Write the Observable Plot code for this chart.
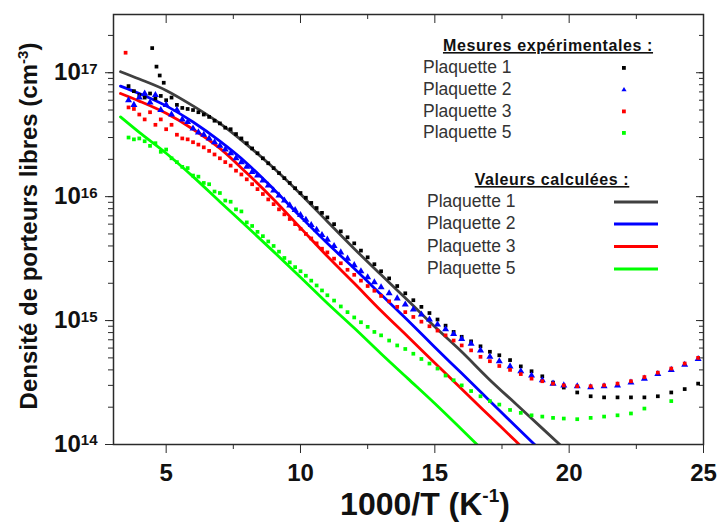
<!DOCTYPE html>
<html><head><meta charset="utf-8">
<script src="https://cdn.jsdelivr.net/npm/d3@7"></script>
<script src="https://cdn.jsdelivr.net/npm/@observablehq/plot@0.6"></script>
<style>body{margin:0;background:#fff}</style>
</head><body><div id="chart"></div>
<script>
// 1000/T grid of the measurements (K^-1)
const invT = [3.4,3.6,3.8,4.0,4.2,4.4,4.6,4.8,5.0,5.2,5.4,5.6,5.8,6.0,6.2,6.4,6.6,6.8,7.0,7.2,7.4,7.6,7.8,8.0,8.2,8.4,8.6,8.8,9.0,9.2,9.4,9.6,9.8,10.0,10.2,10.4,10.6,10.8,11.0,11.25,11.5,11.75,12.0,12.25,12.5,12.75,13.0,13.3,13.6,13.9,14.2,14.5,14.8,15.1,15.4,15.7,16.0,16.35,16.7,17.05,17.4,17.8,18.2,18.6,19.0,19.4,19.8,20.3,20.8,21.3,21.8,22.3,22.8,23.3,23.8,24.3,24.8];
// measured densities (cm^-3)
const p1 = [null,7.8e16,7.1e16,6.6e16,6.3e16,6.8e16,6.2e16,6.5e16,6.0e16,6.3e16,5.5e16,5.2e16,5.1e16,5.0e16,4.8e16,4.6e16,4.4e16,4.1e16,3.9e16,3.6e16,3.5e16,3.2e16,2.95e16,2.7e16,2.45e16,2.24e16,2.04e16,1.86e16,1.70e16,1.55e16,1.41e16,1.29e16,1.17e16,1.07e16,9.8e15,8.9e15,8.1e15,7.4e15,6.8e15,6.0e15,5.25e15,4.7e15,4.2e15,3.67e15,3.24e15,2.85e15,2.5e15,2.19e15,1.9e15,1.66e15,1.46e15,1.29e15,1.15e15,1.02e15,9.1e14,8.1e14,7.4e14,6.8e14,6.2e14,5.6e14,5.25e14,4.8e14,4.27e14,3.9e14,3.55e14,3.16e14,2.88e14,2.63e14,2.45e14,2.4e14,2.4e14,2.4e14,2.4e14,2.45e14,2.63e14,2.8e14,3.1e14];
const p2 = [null,6.0e16,5.5e16,6.3e16,6.8e16,5.75e16,6.6e16,5.0e16,5.5e16,4.6e16,5.0e16,4.2e16,4.0e16,3.55e16,3.3e16,3.16e16,2.95e16,2.75e16,2.57e16,2.4e16,2.24e16,2.04e16,1.9e16,1.74e16,1.58e16,1.48e16,1.35e16,1.23e16,1.12e16,1.02e16,9.3e15,8.5e15,7.8e15,7.1e15,6.5e15,5.9e15,5.4e15,4.9e15,4.5e15,4.0e15,3.55e15,3.16e15,2.8e15,2.5e15,2.24e15,2.04e15,1.86e15,1.66e15,1.51e15,1.35e15,1.23e15,1.12e15,1.02e15,9.3e14,8.5e14,7.8e14,7.1e14,6.5e14,5.75e14,5.1e14,4.7e14,4.27e14,3.9e14,3.6e14,3.3e14,3.1e14,3.0e14,2.95e14,2.9e14,2.95e14,3.0e14,3.16e14,3.4e14,3.7e14,4.0e14,4.4e14,4.9e14];
const p3 = [null,5.25e16,5.1e16,4.6e16,4.2e16,4.8e16,3.8e16,4.2e16,3.5e16,3.8e16,3.16e16,2.95e16,2.9e16,2.75e16,2.63e16,2.5e16,2.34e16,2.19e16,2.04e16,1.9e16,1.78e16,1.62e16,1.51e16,1.38e16,1.26e16,1.15e16,1.05e16,9.5e15,8.7e15,7.9e15,7.2e15,6.6e15,6.0e15,5.5e15,5.0e15,4.6e15,4.2e15,3.8e15,3.55e15,3.16e15,2.9e15,2.57e15,2.34e15,2.1e15,1.9e15,1.74e15,1.58e15,1.43e15,1.29e15,1.17e15,1.07e15,9.8e14,9.0e14,8.3e14,7.6e14,6.9e14,6.3e14,5.75e14,5.1e14,4.7e14,4.3e14,4.0e14,3.7e14,3.4e14,3.24e14,3.1e14,3.0e14,2.95e14,2.95e14,3.0e14,3.1e14,3.24e14,3.5e14,3.8e14,4.1e14,4.5e14,5.0e14];
const p5 = [null,3.0e16,2.9e16,2.95e16,2.8e16,2.57e16,2.7e16,2.3e16,2.4e16,2.04e16,1.9e16,1.74e16,1.7e16,1.48e16,1.45e16,1.29e16,1.26e16,1.1e16,1.07e16,9.3e15,9.1e15,7.9e15,7.6e15,6.2e15,5.8e15,5.2e15,4.8e15,4.35e15,4.0e15,3.6e15,3.2e15,2.95e15,2.7e15,2.5e15,2.3e15,2.1e15,1.92e15,1.75e15,1.6e15,1.45e15,1.3e15,1.17e15,1.06e15,9.7e14,8.9e14,8.1e14,7.6e14,6.9e14,6.3e14,5.9e14,5.4e14,4.9e14,4.5e14,4.1e14,3.6e14,3.3e14,3.0e14,2.7e14,2.45e14,2.24e14,2.1e14,1.9e14,1.8e14,1.72e14,1.68e14,1.64e14,1.62e14,1.6e14,1.64e14,1.68e14,1.72e14,1.78e14,1.95e14,null,2.24e14,null,null];
// isolated outlying measurements
const p1OutX = [4.48,4.64,4.76,4.91];
const p1OutY = [1.58e17,1.12e17,9.5e16,8.3e16];
const p3OutX = [3.49];
const p3OutY = [1.45e17];
// calculated curves
const calcX = [3.3,4,5,6,7,8,9,10,11,12,13,14,15,16,17,18,19,20];
const calc1 = [1.02e17,8.9e16,7.2e16,5.4e16,3.9e16,2.63e16,1.7e16,1.05e16,6.3e15,3.8e15,2.34e15,1.45e15,8.9e14,5.6e14,3.4e14,2.14e14,1.35e14,8.5e13];
const calc2 = [7.8e16,6.8e16,5.4e16,4.0e16,2.8e16,1.86e16,1.15e16,6.9e15,4.2e15,2.63e15,1.62e15,1.0e15,6.1e14,3.75e14,2.3e14,1.41e14,8.7e13,null];
const calc3 = [6.8e16,5.9e16,4.7e16,3.5e16,2.45e16,1.55e16,9.5e15,5.6e15,3.3e15,2.0e15,1.2e15,7.4e14,4.55e14,2.8e14,1.73e14,1.07e14,6.6e13,null];
const calc5 = [4.4e16,3.3e16,2.24e16,1.45e16,9.1e15,5.75e15,3.6e15,2.24e15,1.38e15,8.7e14,5.4e14,3.4e14,2.14e14,1.32e14,8.1e13,null,null,null];
// ticks and legend
const xMajor = [5,10,15,20,25];
const xMinor = [7.5,12.5,17.5,22.5];
const yMajor = [1e14,1e15,1e16,1e17];
const names = ["Plaquette 1","Plaquette 2","Plaquette 3","Plaquette 5"];
const dotColors = ["#000000","#0000ff","#ff0000","#00ff00"];
const lineColors = ["#404040","#0000ff","#ff0000","#00ff00"];

const FONT = "'Liberation Sans', Arial, sans-serif";
const yDomain = [1e14, 2.95e17];
const yMinor = d3.scaleLog().domain(yDomain).ticks();
const AX = "#2a2a2a";

const series = [p1, p2, p3, p5];
const calcs = [calc1, calc2, calc3, calc5];

const marks = [];
calcs.forEach((c, i) => marks.push(Plot.line(calcX, {x: calcX, y: c, stroke: lineColors[i], strokeWidth: 2.8, curve: "monotone-x", clip: true})));
series.forEach((s, i) => marks.push(Plot.dot(invT, {x: invT, y: s, symbol: i === 1 ? "triangle" : "square", r: i === 1 ? 2.6 : 2.1, fill: dotColors[i], stroke: null})));
marks.push(Plot.dot(p1OutX, {x: p1OutX, y: p1OutY, symbol: "square", r: 2.1, fill: dotColors[0]}));
marks.push(Plot.dot(p3OutX, {x: p3OutX, y: p3OutY, symbol: "square", r: 2.1, fill: dotColors[2]}));

const chart = Plot.plot({
  width: 721, height: 524,
  marginLeft: 113, marginRight: 18, marginTop: 14, marginBottom: 80,
  style: {fontFamily: FONT, background: "#fff", color: AX},
  x: {domain: [3.04, 25]},
  y: {type: "log", domain: yDomain},
  marks: [
    ...marks,
    Plot.frame({stroke: AX, strokeWidth: 1.5}),
    Plot.axisY({anchor: "left", ticks: yMajor, tickSize: 8, tickPadding: 8, tickFormat: d => String(Math.round(Math.log10(d))), fontSize: 24, fontWeight: "bold", fill: "#111", label: null}),
    Plot.axisY({anchor: "left", ticks: yMinor, tickSize: 5, tickFormat: () => "", label: null}),
    Plot.axisY({anchor: "right", ticks: yMajor, tickSize: 8, dx: -8, tickFormat: () => "", label: null}),
    Plot.axisY({anchor: "right", ticks: yMinor, tickSize: 5, dx: -5, tickFormat: () => "", label: null}),
    Plot.axisX({anchor: "bottom", ticks: xMajor, tickSize: 9, tickPadding: 10, fontSize: 24, fontWeight: "bold", fill: "#111", label: null}),
    Plot.axisX({anchor: "bottom", ticks: xMinor, tickSize: 5, tickFormat: () => "", label: null}),
    Plot.axisX({anchor: "top", ticks: xMajor, tickSize: 8, dy: 8, tickFormat: () => "", label: null}),
    Plot.axisX({anchor: "top", ticks: xMinor, tickSize: 4, dy: 4, tickFormat: () => "", label: null})
  ]
});
document.getElementById("chart").appendChild(chart);

const svg = d3.select(chart);
// y tick labels as 10^n
svg.selectAll('g[aria-label="y-axis tick label"] text').each(function() {
  const t = d3.select(this);
  const e = t.text();
  if (!e) return;
  t.text("");
  t.append("tspan").text("10");
  t.append("tspan").attr("dy", "-0.45em").attr("font-size", 15).text(e);
});

// axis titles
const yl = svg.append("text").attr("transform", "translate(37,226) rotate(-90)")
  .attr("text-anchor", "middle").attr("font-size", 24).attr("font-weight", "bold").attr("fill", "#111").attr("font-family", FONT);
yl.append("tspan").text("Densité de porteurs libres (cm");
yl.append("tspan").attr("dy", -9).attr("font-size", 15).text("-3");
yl.append("tspan").attr("dy", 9).text(")");

const xl = svg.append("text").attr("x", 425).attr("y", 515)
  .attr("text-anchor", "middle").attr("font-size", 32).attr("font-weight", "bold").attr("fill", "#111").attr("font-family", FONT);
xl.append("tspan").text("1000/T (K");
xl.append("tspan").attr("dy", -13).attr("font-size", 19).text("-1");
xl.append("tspan").attr("dy", 13).text(")");

// legend
const lg = svg.append("g").attr("font-family", FONT).attr("text-anchor", "start");
lg.append("text").attr("x", 548).attr("y", 51).attr("text-anchor", "middle").attr("font-size", 16).attr("font-weight", "bold")
  .attr("letter-spacing", 0.6).attr("text-decoration", "underline").attr("fill", "#111").text("Mesures expérimentales :");
const rows1 = [73, 95, 116.5, 138];
names.forEach((n, i) => {
  lg.append("text").attr("x", 423).attr("y", rows1[i]).attr("text-anchor", "start").attr("font-size", 17.5).attr("fill", "#333").text(n);
  if (i === 1) lg.append("path").attr("d", `M624,${rows1[i]-8}l2.6,4.2h-5.2z`).attr("fill", dotColors[i]);
  else lg.append("rect").attr("x", 622).attr("y", rows1[i]-7).attr("width", 3.8).attr("height", 3.8).attr("fill", dotColors[i]);
});
lg.append("text").attr("x", 552).attr("y", 185).attr("text-anchor", "middle").attr("font-size", 16).attr("font-weight", "bold")
  .attr("letter-spacing", 0.6).attr("text-decoration", "underline").attr("fill", "#111").text("Valeurs calculées :");
const rows2 = [207, 229, 251.5, 274];
names.forEach((n, i) => {
  lg.append("text").attr("x", 427).attr("y", rows2[i]).attr("text-anchor", "start").attr("font-size", 17.5).attr("fill", "#333").text(n);
  lg.append("line").attr("x1", 614).attr("x2", 658).attr("y1", rows2[i]-5).attr("y2", rows2[i]-5).attr("stroke", lineColors[i]).attr("stroke-width", 3);
});
</script>
</body></html>
